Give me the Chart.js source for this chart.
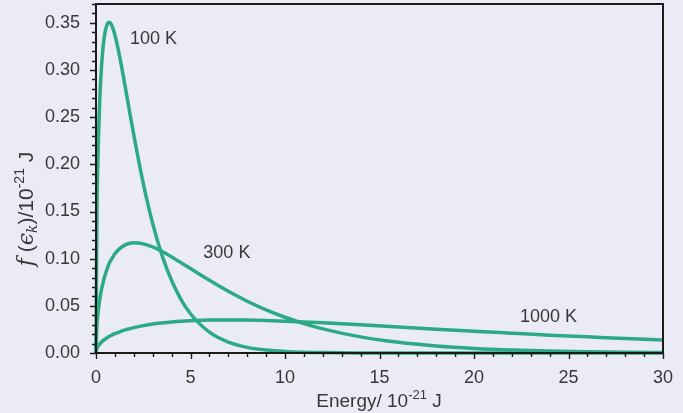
<!DOCTYPE html>
<html>
<head>
<meta charset="utf-8">
<script src="https://cdn.jsdelivr.net/npm/chart.js@4"></script>
<style>
  html, body { margin: 0; padding: 0; background: #ebebf6; }
  #wrap { width: 683px; height: 413px; position: relative; }
</style>
</head>
<body>
<div id="wrap"><canvas id="mbChart"></canvas></div>
<script>
// energy in 10^-21 J
const energy = [0, 0.05, 0.1, 0.2, 0.3, 0.45, 0.6, 0.69, 0.8, 1, 1.25, 1.5, 1.75, 2, 2.5, 3, 3.5, 4, 4.5, 5,
  6, 7, 8, 9, 10, 11, 12, 14, 16, 18, 20, 22, 24, 26, 28, 30];
const f100 = [0, 0.150, 0.2046, 0.2691, 0.3066, 0.3368, 0.3489, 0.3506, 0.3486, 0.3371, 0.3145, 0.2874, 0.2590, 0.2311,
  0.1799, 0.1372, 0.1032, 0.0768, 0.0567, 0.0416, 0.0221, 0.0116, 0.0060, 0.0031, 0.0016, 0.0008, 0.0004,
  0.0001, 0, 0, 0, 0, 0, 0, 0, 0];
const f300 = [0, 0.0296, 0.0413, 0.0570, 0.0682, 0.0806, 0.0897, 0.0948, 0.0987, 0.1052, 0.1107, 0.1141, 0.1161, 0.1168,
  0.1157, 0.1124, 0.1076, 0.1019, 0.0958, 0.0895, 0.0770, 0.0654, 0.0549, 0.0457, 0.0379, 0.0312, 0.0256,
  0.0171, 0.0113, 0.0074, 0.0048, 0.0031, 0.0020, 0.0013, 0.0008, 0.0005];
const f1000 = [0, 0.0049, 0.0069, 0.0097, 0.0118, 0.0143, 0.0163, 0.0175, 0.0186, 0.0205, 0.0225, 0.0242, 0.0256, 0.0269,
  0.0290, 0.0307, 0.0319, 0.0329, 0.0337, 0.0342, 0.0349, 0.0351, 0.0349, 0.0344, 0.0337, 0.0329, 0.0320,
  0.0299, 0.0276, 0.0253, 0.0231, 0.0210, 0.0189, 0.0171, 0.0153, 0.0137];
const seriesNames = ['100 K', '300 K', '1000 K'];
const xTicks = [0, 5, 10, 15, 20, 25, 30];
const yTicks = [0, 0.05, 0.10, 0.15, 0.20, 0.25, 0.30, 0.35];

const green = '#2caa86';
const textCol = '#383838';
const fontFam = "'Liberation Sans', Arial, Helvetica, sans-serif";

const toPts = ys => energy.map((e, i) => ({ x: e, y: ys[i] }));

const deco = {
  id: 'deco',
  afterDraw(chart) {
    const { ctx, chartArea: a, scales: { x, y } } = chart;
    ctx.save();
    ctx.strokeStyle = '#1b1b1b';
    ctx.lineWidth = 1.4;
    ctx.beginPath();
    // x ticks (minor every 1, major every 5)
    for (let i = 0; i <= 30; i++) {
      const px = Math.round(x.getPixelForValue(i)) + 0.5;
      const len = i % 5 === 0 ? 6 : 4;
      ctx.moveTo(px, a.bottom);
      ctx.lineTo(px, a.bottom + len);
    }
    // y ticks (minor every 0.01, major every 0.05)
    for (let i = 0; i <= 37; i++) {
      const py = Math.round(y.getPixelForValue(i / 100)) + 0.5;
      const len = i % 5 === 0 ? 6 : 4;
      ctx.moveTo(a.left, py);
      ctx.lineTo(a.left - len, py);
    }
    ctx.stroke();
    ctx.lineWidth = 2;
    ctx.strokeRect(a.left, a.top, a.right - a.left, a.bottom - a.top);

    // curve labels
    ctx.fillStyle = textCol;
    ctx.font = '18px ' + fontFam;
    ctx.textBaseline = 'middle';
    ctx.textAlign = 'left';
    const anchors = [[1.8, 0.333], [5.68, 0.1056], [22.43, 0.0378]];
    seriesNames.forEach((n, i) => {
      ctx.fillText(n, x.getPixelForValue(anchors[i][0]), y.getPixelForValue(anchors[i][1]));
    });

    // axis titles
    ctx.textBaseline = 'alphabetic';
    const pieces = (parts) => {
      let w = 0;
      parts.forEach(p => { ctx.font = p.f; w += ctx.measureText(p.t).width; });
      return w;
    };
    const drawRun = (parts, x0, base) => {
      let cx = x0;
      parts.forEach(p => {
        ctx.font = p.f;
        ctx.fillText(p.t, cx, base + (p.dy || 0));
        cx += ctx.measureText(p.t).width;
      });
    };
    const big = '19px ' + fontFam, small = '13px ' + fontFam;
    const xt = [{ t: 'Energy/ 10', f: big }, { t: '-21', f: small, dy: -8 }, { t: ' J', f: big }];
    const xw = pieces(xt);
    drawRun(xt, 379 - xw / 2, 407);

    const yBig = '21px ' + fontFam;
    const it = 'italic 22px "DejaVu Serif", "Liberation Serif", serif';
    const yt = [{ t: 'f', f: it }, { t: ' (', f: yBig }, { t: 'ϵ', f: it },
      { t: 'k', f: 'italic 14px "DejaVu Serif", serif', dy: 4 }, { t: ')/10', f: yBig },
      { t: '-21', f: '14px ' + fontFam, dy: -9 }, { t: ' J', f: yBig }];
    const yw = pieces(yt);
    ctx.translate(33, 209);
    ctx.rotate(-Math.PI / 2);
    drawRun(yt, -yw / 2, 0);
    ctx.restore();
  }
};

const mkSet = (label, ys) => ({
  label: label,
  data: toPts(ys),
  borderColor: green,
  borderWidth: 3.5,
  pointRadius: 0,
  fill: false,
  cubicInterpolationMode: 'monotone',
  clip: 6
});

new Chart(document.getElementById('mbChart'), {
  type: 'line',
  data: {
    datasets: [mkSet(seriesNames[0], f100), mkSet(seriesNames[1], f300), mkSet(seriesNames[2], f1000)]
  },
  options: {
    responsive: true,
    maintainAspectRatio: false,
    animation: false,
    layout: { padding: { top: 4, right: 20, left: 0, bottom: 0 } },
    plugins: { legend: { display: false }, tooltip: { enabled: false } },
    scales: {
      x: {
        type: 'linear',
        min: 0, max: 30,
        afterFit: s => { s.height = 60; s.paddingLeft = 0; s.paddingRight = 0; },
        afterBuildTicks: s => { s.ticks = xTicks.map(v => ({ value: v })); },
        grid: { display: false, drawTicks: true, tickLength: 6 },
        border: { display: false },
        ticks: { color: textCol, font: { family: fontFam, size: 18 }, padding: 8, maxRotation: 0 }
      },
      y: {
        type: 'linear',
        min: 0, max: 0.37,
        afterFit: s => { s.width = 96; s.paddingTop = 0; s.paddingBottom = 0; },
        afterBuildTicks: s => { s.ticks = yTicks.map(v => ({ value: v })); },
        grid: { display: false, drawTicks: true, tickLength: 6 },
        border: { display: false },
        ticks: {
          color: textCol, font: { family: fontFam, size: 18 }, padding: 10,
          callback: v => v.toFixed(2)
        }
      }
    }
  },
  plugins: [deco]
});
</script>
</body>
</html>
